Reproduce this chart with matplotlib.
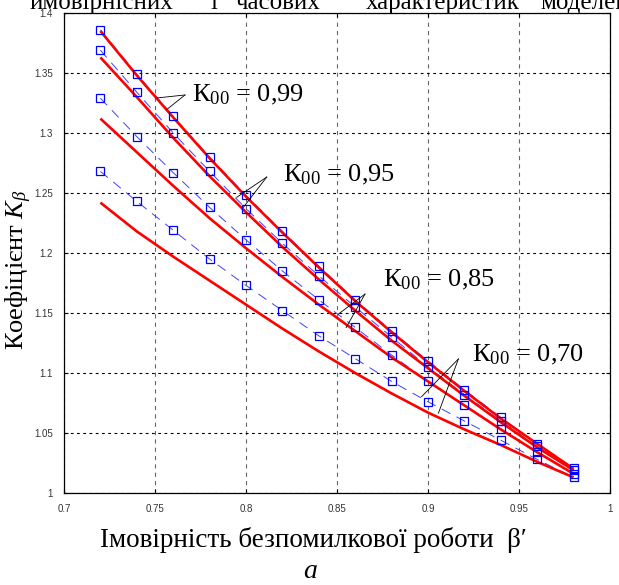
import matplotlib
matplotlib.use('Agg')
import matplotlib.pyplot as plt
from matplotlib import font_manager

# beta' values where the simulation points were taken
beta = [0.72, 0.74, 0.76, 0.78, 0.80, 0.82, 0.84, 0.86, 0.88, 0.90, 0.92, 0.94, 0.96, 0.98]

# simulation (blue squares, dashed)
sim_099 = [1.386, 1.349, 1.314, 1.280, 1.248, 1.218, 1.189, 1.161, 1.135, 1.110, 1.086, 1.063, 1.041, 1.021]
sim_095 = [1.369, 1.334, 1.300, 1.268, 1.237, 1.208, 1.181, 1.155, 1.130, 1.105, 1.082, 1.060, 1.039, 1.019]
sim_085 = [1.329, 1.297, 1.267, 1.238, 1.211, 1.185, 1.161, 1.138, 1.115, 1.093, 1.073, 1.053, 1.034, 1.016]
sim_070 = [1.268, 1.243, 1.219, 1.195, 1.173, 1.152, 1.131, 1.112, 1.093, 1.076, 1.060, 1.044, 1.028, 1.013]

# analytic curves (red, solid)
th_099 = [1.385, 1.348, 1.313, 1.279, 1.247, 1.217, 1.188, 1.160, 1.134, 1.109, 1.085, 1.062, 1.041, 1.020]
th_095 = [1.363, 1.330, 1.296, 1.264, 1.234, 1.205, 1.178, 1.152, 1.127, 1.104, 1.081, 1.059, 1.038, 1.019]
th_085 = [1.312, 1.284, 1.256, 1.229, 1.204, 1.180, 1.157, 1.135, 1.113, 1.093, 1.073, 1.053, 1.034, 1.016]
th_070 = [1.242, 1.218, 1.197, 1.177, 1.157, 1.137, 1.118, 1.100, 1.083, 1.067, 1.053, 1.040, 1.026, 1.013]

x_ticks = [0.7, 0.75, 0.8, 0.85, 0.9, 0.95, 1.0]
x_ticklabels = ['0.7', '0.75', '0.8', '0.85', '0.9', '0.95', '1']
y_ticks = [1.0, 1.05, 1.1, 1.15, 1.2, 1.25, 1.3, 1.35, 1.4]
y_ticklabels = ['1', '1.05', '1.1', '1.15', '1.2', '1.25', '1.3', '1.35', '1.4']

labels = ['К$_{00}$ = 0,99', 'К$_{00}$ = 0,95', 'К$_{00}$ = 0,85', 'К$_{00}$ = 0,70']

available = {f.name for f in font_manager.fontManager.ttflist}
narrow = 'Liberation Sans Narrow' if 'Liberation Sans Narrow' in available else 'Liberation Sans'
serif = ['Liberation Serif', 'DejaVu Serif']

plt.rcParams['mathtext.fontset'] = 'custom'
plt.rcParams['mathtext.rm'] = 'Liberation Serif'
plt.rcParams['mathtext.it'] = 'Liberation Serif:italic'
plt.rcParams['lines.scale_dashes'] = False

fig = plt.figure(figsize=(6.19, 5.85), dpi=100)
ax = fig.add_axes([64 / 619, 1 - 493 / 585, 546 / 619, 480 / 585])

sims = [sim_099, sim_095, sim_085, sim_070]
ths = [th_099, th_095, th_085, th_070]

for s in sims:
    ax.plot(beta, s, color='#4040ff', lw=0.7, dashes=(7, 5), zorder=2)
for t in ths:
    ax.plot(beta, t, color='#ff0000', lw=1.9, zorder=3, solid_capstyle='butt')
for s in sims:
    ax.plot(beta, s, ls='none', marker='s', ms=5.2, mfc='none', mec='#0000ff', mew=0.9, zorder=4)

ax.set_xlim(0.7, 1.0)
ax.set_ylim(1.0, 1.4)
ax.set_xticks(x_ticks)
ax.set_xticklabels(x_ticklabels)
ax.set_yticks(y_ticks)
ax.set_yticklabels(y_ticklabels)
for lab in ax.get_xticklabels() + ax.get_yticklabels():
    lab.set_fontfamily(narrow)
    lab.set_fontsize(7)
    lab.set_color('#333333')
ax.tick_params(direction='in', length=3, width=0.8, top=True, right=True, pad=8)
ax.xaxis.grid(True, color='#666666', lw=0.8, dashes=(3, 3))
ax.yaxis.grid(True, color='#000000', lw=0.8, dashes=(2, 2.5))
ax.set_axisbelow(True)
for sp in ax.spines.values():
    sp.set_linewidth(0.9)

# labels with leader lines
text_pos = [(0.7703, 1.3317), (0.8203, 1.2650), (0.8753, 1.1775), (0.9242, 1.1150)]
line_from = [(0.7665, 1.3317), (0.8114, 1.2633), (0.8654, 1.1658), (0.9167, 1.1117)]
line_to = [[(0.7510, 1.3292), (0.7564, 1.3195)],
           [(0.7949, 1.2464), (0.7985, 1.2380)],
           [(0.8507, 1.1490), (0.8550, 1.1378)],
           [(0.8965, 1.0803), (0.9057, 1.0664)]]
for lab, tp, lf, lt in zip(labels, text_pos, line_from, line_to):
    ax.text(tp[0], tp[1], lab, fontsize=19, family=serif, va='center', ha='left', zorder=6)
    for p in lt:
        ax.plot([lf[0], p[0]], [lf[1], p[1]], color='black', lw=0.6, zorder=5)

fig.text(19 / 619, 1 - 270 / 585, 'Коефіцієнт $K_\\beta$', rotation=90, fontsize=19,
         family=serif, ha='center', va='center')
fig.text(313 / 619, 1 - 547 / 585, 'Імовірність безпомилкової роботи  β′', fontsize=19.5,
         family=serif, ha='center', va='baseline')
fig.text(310 / 619, 1 - 578 / 585, 'a', fontsize=20, family=serif, style='italic',
         ha='center', va='baseline')

# cut-off line of the page text above the figure
words = ['ймовірнісних', 'і', 'часових', 'характеристик', 'моделей']
word_x = [30, 210, 236, 366, 540]
for w, wx in zip(words, word_x):
    fig.text(wx / 619, 1 - 9 / 585, w, fontsize=18, family=serif, ha='left', va='baseline')

fig.savefig('out.png', dpi=100)
